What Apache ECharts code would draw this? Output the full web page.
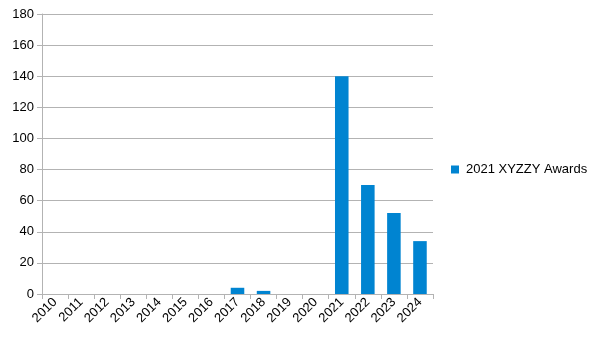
<!DOCTYPE html>
<html><head><meta charset="utf-8">
<script src="https://cdn.jsdelivr.net/npm/echarts@6/dist/echarts.min.js"></script>
<style>html,body{margin:0;padding:0;background:#fff}#c{width:605px;height:341px}</style>
</head><body><div id="c"></div>
<script>
const categories = ['2010','2011','2012','2013','2014','2015','2016','2017','2018','2019','2020','2021','2022','2023','2024'];
const seriesName = '2021 XYZZY Awards';
const values = [0,0,0,0,0,0,0,4,2,0,0,140,70,52,34];
const chart = echarts.init(document.getElementById('c'), null, {renderer:'canvas'});
chart.setOption({
  animation:false,
  textStyle:{fontFamily:'Liberation Sans'},
  grid:{left:42, right:172, top:14, bottom:47, containLabel:false},
  legend:{orient:'vertical', left:451, top:163, padding:0, itemWidth:8, itemHeight:8, itemGap:10,
    icon:'rect', textStyle:{fontSize:13, color:'#000', fontFamily:'Liberation Sans', padding:[0,0,0,2]}, data:[seriesName]},
  xAxis:{type:'category', data:categories,
    axisLine:{lineStyle:{color:'#b3b3b3'}},
    axisTick:{show:true, length:5, lineStyle:{color:'#b3b3b3'}},
    axisLabel:{rotate:45, interval:0, color:'#000', fontSize:13, margin:6, fontFamily:'Liberation Sans'}},
  yAxis:{type:'value', min:0, max:180, interval:20,
    axisLine:{show:true, lineStyle:{color:'#b3b3b3'}},
    axisTick:{show:true, length:5, lineStyle:{color:'#b3b3b3'}},
    splitLine:{lineStyle:{color:'#b3b3b3'}},
    axisLabel:{color:'#000', fontSize:13, margin:8, fontFamily:'Liberation Sans'}},
  series:[{name:seriesName, type:'bar', data:values, barWidth:'52%', itemStyle:{color:'#0084d1'}}]
});
</script></body></html>
